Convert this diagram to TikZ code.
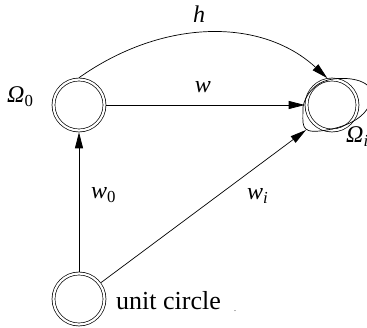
\documentclass[tikz,border=0pt]{standalone}
\usepackage{fontspec}
\setmainfont{Liberation Serif}
\usetikzlibrary{arrows.meta}
\definecolor{mapink}{HTML}{000000}
\tikzset{
  map state/.style={circle, draw=mapink, double, double distance=2.2pt,
    line width=0.7pt, minimum size=51pt, inner sep=0pt, outer sep=1.8pt},
  map arrow/.style={draw=mapink, line width=0.7pt,
    -{Triangle[length=16pt, width=8pt]}},
  map line/.style={draw=mapink, line width=0.7pt},
  map label/.style={font=\fontsize{24}{28}\selectfont, text=mapink,
    inner sep=0pt},
  circle label/.style={font=\fontsize{26}{30}\selectfont, text=mapink,
    inner sep=0pt},
}

\begin{document}
\begin{tikzpicture}[x=1pt, y=-1pt]
  \useasboundingbox (0,0) rectangle (367,328);
  \node[map state] (O0) at (79,105) {};
  \node[map state] (Oi) at (332,105) {};
  \node[map state] (U) at (79,299) {};
  % self loop hugging the target state
  \begin{scope}[shift={(Oi.center)}]
    \draw[map line] (-29,2) .. controls (-29,20) and (-32,28) .. (-12,26)
      .. controls (13,23) and (38,13) .. (40,-10)
      .. controls (40,-26) and (13,-29) .. (-4,-25)
      .. controls (-17,-22) and (-27,-10) .. (-29,2);
    \coordinate (Oiin) at (-26,25);
  \end{scope}
  \draw[map arrow] (O0.north) .. controls +(85,-60) and +(-65,-60) .. (Oi.100);
  \draw[map arrow] (O0) -- (Oi);
  \draw[map arrow] (U) -- (O0);
  \draw[map arrow] (U) -- (Oiin);
  \node[map label, anchor=base] at (199,23) {\textit{h}};
  \node[map label, anchor=base] at (203,93) {\textit{w}};
  \node[map label, anchor=base west] at (91,199) {\textit{w}\textsubscript{0}};
  \node[map label, anchor=base west] at (247,200)
    {\textit{w}\textsubscript{\textit{i}}};
  \node[map label, anchor=base west] at (7,103) {\textit{Ω}\textsubscript{0}};
  \node[map label, anchor=base west] at (346,143)
    {\textit{Ω}\textsubscript{\textit{i}}};
  \node[circle label, anchor=base west] at (116,310) {unit circle};
  \node[map label, font=\fontsize{8}{8}\selectfont] at (235,311) {.};
\end{tikzpicture}
\end{document}
